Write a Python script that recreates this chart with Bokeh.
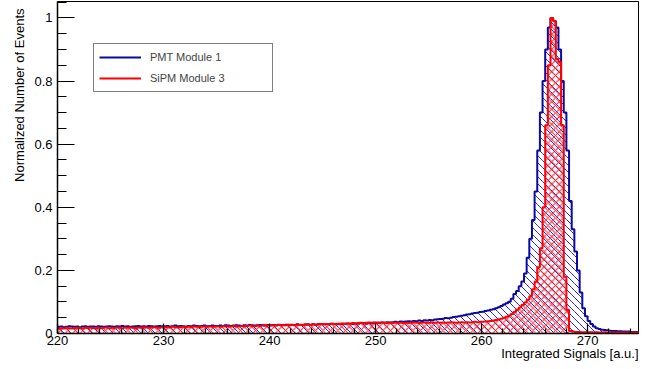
import numpy as np
from bokeh.plotting import figure
from bokeh.models import (Range1d, Legend, LegendItem, Title, SingleIntervalTicker,
                          CustomJSTickFormatter)
from bokeh.embed import file_html
from bokeh.resources import INLINE

# ---- data -------------------------------------------------------------
bin_low = 220.0
bin_width = 0.25

pmt_module_1 = [
    # 220-225
    0.021, 0.022, 0.020, 0.021, 0.023, 0.022, 0.021, 0.022, 0.020, 0.022,
    0.023, 0.021, 0.022, 0.022, 0.021, 0.023, 0.022, 0.021, 0.022, 0.023,
    # 225-230
    0.022, 0.021, 0.023, 0.022, 0.024, 0.022, 0.023, 0.021, 0.022, 0.023,
    0.024, 0.022, 0.023, 0.022, 0.024, 0.023, 0.022, 0.023, 0.024, 0.023,
    # 230-235
    0.023, 0.024, 0.022, 0.023, 0.025, 0.023, 0.024, 0.023, 0.022, 0.024,
    0.023, 0.025, 0.024, 0.023, 0.024, 0.025, 0.023, 0.024, 0.025, 0.024,
    # 235-240
    0.024, 0.025, 0.024, 0.026, 0.025, 0.024, 0.025, 0.026, 0.025, 0.024,
    0.026, 0.025, 0.027, 0.026, 0.025, 0.026, 0.027, 0.026, 0.025, 0.027,
    # 240-245
    0.026, 0.027, 0.026, 0.028, 0.027, 0.026, 0.028, 0.027, 0.028, 0.027,
    0.029, 0.028, 0.027, 0.028, 0.029, 0.028, 0.029, 0.028, 0.030, 0.029,
    # 245-250
    0.029, 0.030, 0.029, 0.031, 0.030, 0.029, 0.031, 0.030, 0.031, 0.032,
    0.031, 0.030, 0.032, 0.031, 0.033, 0.032, 0.031, 0.033, 0.032, 0.034,
    # 250-255
    0.033, 0.034, 0.035, 0.034, 0.036, 0.035, 0.036, 0.037, 0.036, 0.038,
    0.037, 0.038, 0.039, 0.038, 0.040, 0.039, 0.041, 0.040, 0.042, 0.041,
    # 255-260
    0.043, 0.042, 0.044, 0.045, 0.046, 0.047, 0.049, 0.048, 0.050, 0.052,
    0.053, 0.055, 0.056, 0.058, 0.060, 0.061, 0.063, 0.065, 0.066, 0.068,
    # 260-265
    0.069, 0.071, 0.073, 0.075, 0.077, 0.080, 0.083, 0.087, 0.092, 0.096,
    0.101, 0.110, 0.125, 0.135, 0.150, 0.165, 0.190, 0.240, 0.300, 0.360,
    # 265-270
    0.450, 0.580, 0.700, 0.800, 0.900, 0.970, 1.000, 0.990, 0.970, 0.900,
    0.800, 0.700, 0.580, 0.420, 0.330, 0.260, 0.200, 0.130, 0.080, 0.055,
    # 270-275
    0.040, 0.030, 0.022, 0.017, 0.014, 0.012, 0.011, 0.010, 0.009, 0.008,
    0.008, 0.007, 0.007, 0.006, 0.006, 0.006, 0.005, 0.005, 0.005, 0.005,
]

sipm_module_3 = [
    # 220-225
    0.016, 0.017, 0.016, 0.018, 0.017, 0.016, 0.017, 0.018, 0.017, 0.016,
    0.018, 0.017, 0.018, 0.017, 0.016, 0.018, 0.017, 0.018, 0.019, 0.017,
    # 225-230
    0.018, 0.017, 0.019, 0.018, 0.017, 0.019, 0.018, 0.019, 0.018, 0.017,
    0.019, 0.018, 0.020, 0.019, 0.018, 0.019, 0.020, 0.019, 0.018, 0.020,
    # 230-235
    0.019, 0.020, 0.019, 0.021, 0.020, 0.019, 0.020, 0.021, 0.020, 0.021,
    0.020, 0.022, 0.021, 0.020, 0.021, 0.022, 0.021, 0.022, 0.021, 0.022,
    # 235-240
    0.022, 0.021, 0.023, 0.022, 0.023, 0.022, 0.024, 0.023, 0.022, 0.024,
    0.023, 0.024, 0.025, 0.024, 0.023, 0.025, 0.024, 0.025, 0.026, 0.025,
    # 240-245
    0.025, 0.026, 0.025, 0.027, 0.026, 0.027, 0.026, 0.028, 0.027, 0.026,
    0.028, 0.027, 0.028, 0.029, 0.028, 0.027, 0.029, 0.028, 0.029, 0.030,
    # 245-250
    0.029, 0.030, 0.029, 0.031, 0.030, 0.031, 0.030, 0.032, 0.031, 0.032,
    0.031, 0.033, 0.032, 0.033, 0.034, 0.033, 0.034, 0.035, 0.034, 0.035,
    # 250-255
    0.035, 0.034, 0.035, 0.034, 0.033, 0.034, 0.033, 0.034, 0.033, 0.034,
    0.033, 0.034, 0.033, 0.034, 0.035, 0.034, 0.033, 0.034, 0.035, 0.034,
    # 255-260
    0.034, 0.035, 0.034, 0.035, 0.034, 0.035, 0.034, 0.035, 0.036, 0.035,
    0.034, 0.035, 0.036, 0.035, 0.036, 0.035, 0.036, 0.037, 0.036, 0.037,
    # 260-265
    0.037, 0.038, 0.039, 0.040, 0.041, 0.043, 0.045, 0.047, 0.050, 0.053,
    0.057, 0.062, 0.068, 0.075, 0.082, 0.090, 0.098, 0.107, 0.118, 0.140,
    # 265-270
    0.165, 0.210, 0.270, 0.400, 0.660, 0.850, 1.000, 0.990, 0.870, 0.860,
    0.660, 0.180, 0.075, 0.008, 0.006, 0.005, 0.005, 0.004, 0.004, 0.004,
    # 270-275
    0.004, 0.004, 0.003, 0.004, 0.003, 0.003, 0.004, 0.003, 0.003, 0.003,
    0.003, 0.003, 0.003, 0.003, 0.003, 0.003, 0.003, 0.003, 0.003, 0.003,
]

series_labels = ["PMT Module 1", "SiPM Module 3"]
x_axis_title = "Integrated Signals [a.u.]"
y_axis_title = "Normalized Number of Events"

# ---- layout -----------------------------------------------------------
W, H = 639, 361
BL, BR, BT, BB = 57, 1, 1, 28          # borders around the frame (px)
X_RANGE = (220.0, 274.8)
Y_RANGE = (0.0, 1.052)
FONT = "Liberation Sans"

# ---- derived histogram geometry -------------------------------------
n_bins = len(pmt_module_1)
edges = bin_low + bin_width * np.arange(n_bins + 1)
pmt_y = np.append(pmt_module_1, pmt_module_1[-1])
sipm_y = np.append(sipm_module_3, sipm_module_3[-1])


def diagonal_hatch(values, spacing_px):
    """Segments of '\\' hatch lines (45 deg on screen) clipped to the histogram."""
    vals = np.asarray(values, dtype=float)
    fw = W - BL - BR
    fh = H - BT - BB
    kx = fw / (X_RANGE[1] - X_RANGE[0])
    ky = fh / (Y_RANGE[1] - Y_RANGE[0])
    xa = (edges[:-1] - X_RANGE[0]) * kx
    xb = (edges[1:] - X_RANGE[0]) * kx
    yv = vals * ky
    cs = np.arange(0, xb.max() + fh + spacing_px, spacing_px)[:, None]
    lo = np.maximum(xa[None, :], cs - yv[None, :])
    hi = np.minimum(xb[None, :], cs)
    ok = hi > lo
    c_b = np.broadcast_to(cs, lo.shape)[ok]
    lo, hi = lo[ok], hi[ok]
    x0 = lo / kx + X_RANGE[0]
    x1 = hi / kx + X_RANGE[0]
    y0 = (c_b - lo) / ky
    y1 = (c_b - hi) / ky
    return x0, y0, x1, y1


p = figure(width=W, height=H, output_backend="svg", toolbar_location=None,
           x_range=Range1d(*X_RANGE), y_range=Range1d(*Y_RANGE),
           min_border_left=BL, min_border_right=BR, min_border_top=BT,
           min_border_bottom=BB, background_fill_color="white",
           border_fill_color="white")
p.grid.visible = False
p.outline_line_color = "black"
p.outline_line_width = 1

# blue '\\' hatch
hx0, hy0, hx1, hy1 = diagonal_hatch(pmt_module_1, 7.0)
p.segment(x0=hx0, y0=hy0, x1=hx1, y1=hy1, line_color="#1f1fff", line_width=1)
r_pmt = p.step(x=edges, y=pmt_y, mode="after", line_color="#0a0a9e", line_width=2)

# red cross hatch
p.varea_step(x=edges, y1=np.zeros_like(sipm_y), y2=sipm_y, step_mode="after",
             fill_color=None, fill_alpha=0, hatch_pattern="diagonal_cross",
             hatch_color="#ff2020", hatch_scale=7.5, hatch_weight=1)
r_sipm = p.step(x=edges, y=sipm_y, mode="after", line_color="#ff0000", line_width=2)

# axes
p.xaxis.ticker = SingleIntervalTicker(interval=10, num_minor_ticks=5)
p.yaxis.ticker = SingleIntervalTicker(interval=0.2, num_minor_ticks=4)
p.yaxis.formatter = CustomJSTickFormatter(code="return String(Number(tick.toFixed(3)));")
for ax in (p.xaxis[0], p.yaxis[0]):
    ax.axis_line_color = "black"
    ax.axis_line_width = 1.5
    ax.major_tick_line_color = "black"
    ax.minor_tick_line_color = "black"
    ax.major_tick_line_width = 1.2
    ax.minor_tick_line_width = 1.2
    ax.major_tick_out = 0
    ax.minor_tick_out = 0
    ax.major_label_text_font = FONT
    ax.major_label_text_font_size = "13px"
    ax.major_label_text_color = "black"
p.yaxis.major_tick_in = 17
p.yaxis.minor_tick_in = 9
p.yaxis.major_label_standoff = 5
p.xaxis.major_tick_in = 10
p.xaxis.minor_tick_in = 5
p.xaxis.major_label_standoff = 2

# axis titles (ROOT style, aligned to the axis end)
yt = Title(text=y_axis_title, align="right", text_font=FONT, text_font_size="13px",
           text_font_style="normal", text_color="black", standoff=9, offset=7)
p.add_layout(yt, "left")
xt = Title(text=x_axis_title, align="right", text_font=FONT, text_font_size="13px",
           text_font_style="normal", text_color="black", standoff=0)
try:
    xt.standoff = -7
except Exception:
    xt.standoff = 0
p.add_layout(xt, "below")

legend = Legend(items=[LegendItem(label=series_labels[0], renderers=[r_pmt]),
                       LegendItem(label=series_labels[1], renderers=[r_sipm])],
                location=(36, 241), orientation="vertical",
                border_line_color="black", border_line_width=1,
                background_fill_color="white", background_fill_alpha=1,
                label_text_font=FONT, label_text_font_size="11px",
                glyph_width=42, glyph_height=16, label_height=16, label_width=117,
                label_standoff=9, padding=5, spacing=5, margin=0)
p.add_layout(legend)

open("out.html", "w").write(file_html(p, INLINE))
